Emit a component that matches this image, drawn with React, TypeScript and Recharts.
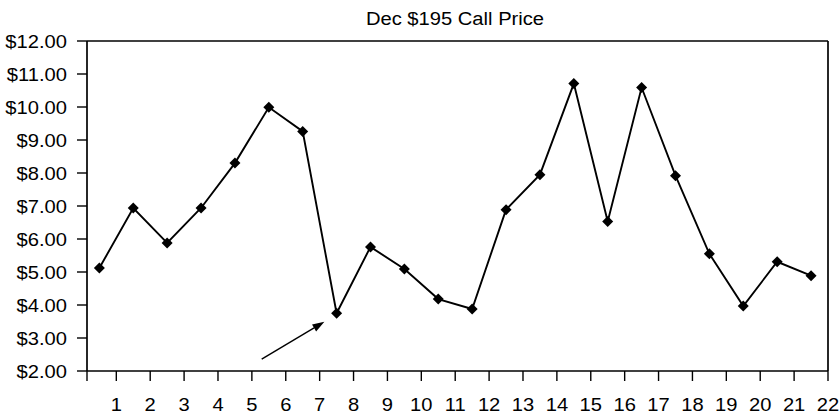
import React from 'react'
import { LineChart, Line, XAxis, YAxis, ReferenceLine } from 'recharts'

// Trading days and the option's closing price on each
const days = [1, 2, 3, 4, 5, 6, 7, 8, 9, 10, 11, 12, 13, 14, 15, 16, 17, 18, 19, 20, 21, 22]
const callPrices = [
  5.12, 6.94, 5.88, 6.94, 8.3, 9.99, 9.26, 3.75, 5.76, 5.09, 4.18,
  3.88, 6.89, 7.95, 10.71, 6.53, 10.59, 7.92, 5.55, 3.97, 5.31, 4.89,
]
const priceTicks = [2, 3, 4, 5, 6, 7, 8, 9, 10, 11, 12]
const dayTicks = [1, 2, 3, 4, 5, 6, 7, 8, 9, 10, 11, 12, 13, 14, 15, 16, 17, 18, 19, 20, 21, 22]

// arrow pointing at the dip on day 8
const arrowFrom = { x: 5.29, y: 2.36 }
const arrowTo = { x: 7.14, y: 3.49 }

const X_MIN = 0.135
const X_MAX = 22

// each price sits in the middle of its day's slot
const chartData = days.map((d, i) => ({ x: d - 0.5, price: callPrices[i] }))

const FONT = '"Liberation Sans", Arial, Helvetica, sans-serif'
const FONT_SIZE = 18
const STRETCH = 1.12

const formatPrice = (val: number) => `$${val.toFixed(2)}`

const PriceTick = (props: any) => {
  const { x, y, payload } = props
  return (
    <text
      transform={`translate(${x},${y}) scale(${STRETCH},1)`}
      textAnchor="end"
      dy={6.5}
      fontFamily={FONT}
      fontSize={FONT_SIZE}
      fill="#000"
    >
      {formatPrice(payload.value)}
    </text>
  )
}

const DayTick = (props: any) => {
  const { x, y, payload } = props
  if (payload.value < 1) return null
  return (
    <text
      transform={`translate(${x},${y}) scale(${STRETCH},1)`}
      textAnchor="middle"
      dy={13.5}
      fontFamily={FONT}
      fontSize={FONT_SIZE}
      fill="#000"
    >
      {payload.value}
    </text>
  )
}

const Diamond = (props: any) => {
  const { cx, cy, index } = props
  if (cx == null || cy == null) return null
  const r = 5.5
  return (
    <polygon
      key={`d-${index}`}
      points={`${cx},${cy - r} ${cx + r},${cy} ${cx},${cy + r} ${cx - r},${cy}`}
      fill="#000"
    />
  )
}

const Arrow = (props: any) => {
  const { x1, y1, x2, y2 } = props
  const angle = Math.atan2(y2 - y1, x2 - x1)
  const len = 12
  const half = 4
  const bx = x2 - len * Math.cos(angle)
  const by = y2 - len * Math.sin(angle)
  const px = -Math.sin(angle) * half
  const py = Math.cos(angle) * half
  return (
    <g>
      <line x1={x1} y1={y1} x2={bx} y2={by} stroke="#000" strokeWidth={1.4} />
      <polygon points={`${x2},${y2} ${bx + px},${by + py} ${bx - px},${by - py}`} fill="#000" />
    </g>
  )
}

export default function App() {
  return (
    <div style={{ position: 'absolute', left: 0, top: 0, width: 840, height: 413, background: '#fff' }}>
      <div
        style={{
          position: 'absolute',
          left: 87,
          top: 10,
          width: 736,
          textAlign: 'center',
          fontFamily: FONT,
          fontSize: FONT_SIZE,
          lineHeight: 1,
          color: '#000',
          transform: `scaleX(${STRETCH})`,
        }}
      >
        Dec $195 Call Price
      </div>
      <LineChart width={840} height={413} data={chartData} margin={{ top: 41, right: 12, left: 0, bottom: 0 }}>
        <XAxis
          dataKey="x"
          type="number"
          domain={[X_MIN, X_MAX]}
          ticks={[X_MIN, ...dayTicks]}
          allowDataOverflow
          interval={0}
          height={42}
          tickSize={10}
          tickMargin={16}
          tick={<DayTick />}
          axisLine={{ stroke: '#000', strokeWidth: 1.7 }}
          tickLine={{ stroke: '#000', strokeWidth: 1.4 }}
        />
        <YAxis
          type="number"
          domain={[2, 12]}
          ticks={priceTicks}
          interval={0}
          width={87}
          tickSize={10}
          tickMargin={10}
          tick={<PriceTick />}
          axisLine={{ stroke: '#000', strokeWidth: 1.7 }}
          tickLine={{ stroke: '#000', strokeWidth: 1.4 }}
        />
        <ReferenceLine y={12} stroke="#000" strokeWidth={1.7} />
        <ReferenceLine x={X_MAX} stroke="#000" strokeWidth={1.7} />
        <ReferenceLine segment={[arrowFrom, arrowTo]} shape={<Arrow />} />
        <Line
          type="linear"
          dataKey="price"
          stroke="#000"
          strokeWidth={1.9}
          dot={<Diamond />}
          activeDot={false}
          isAnimationActive={false}
        />
      </LineChart>
    </div>
  )
}
